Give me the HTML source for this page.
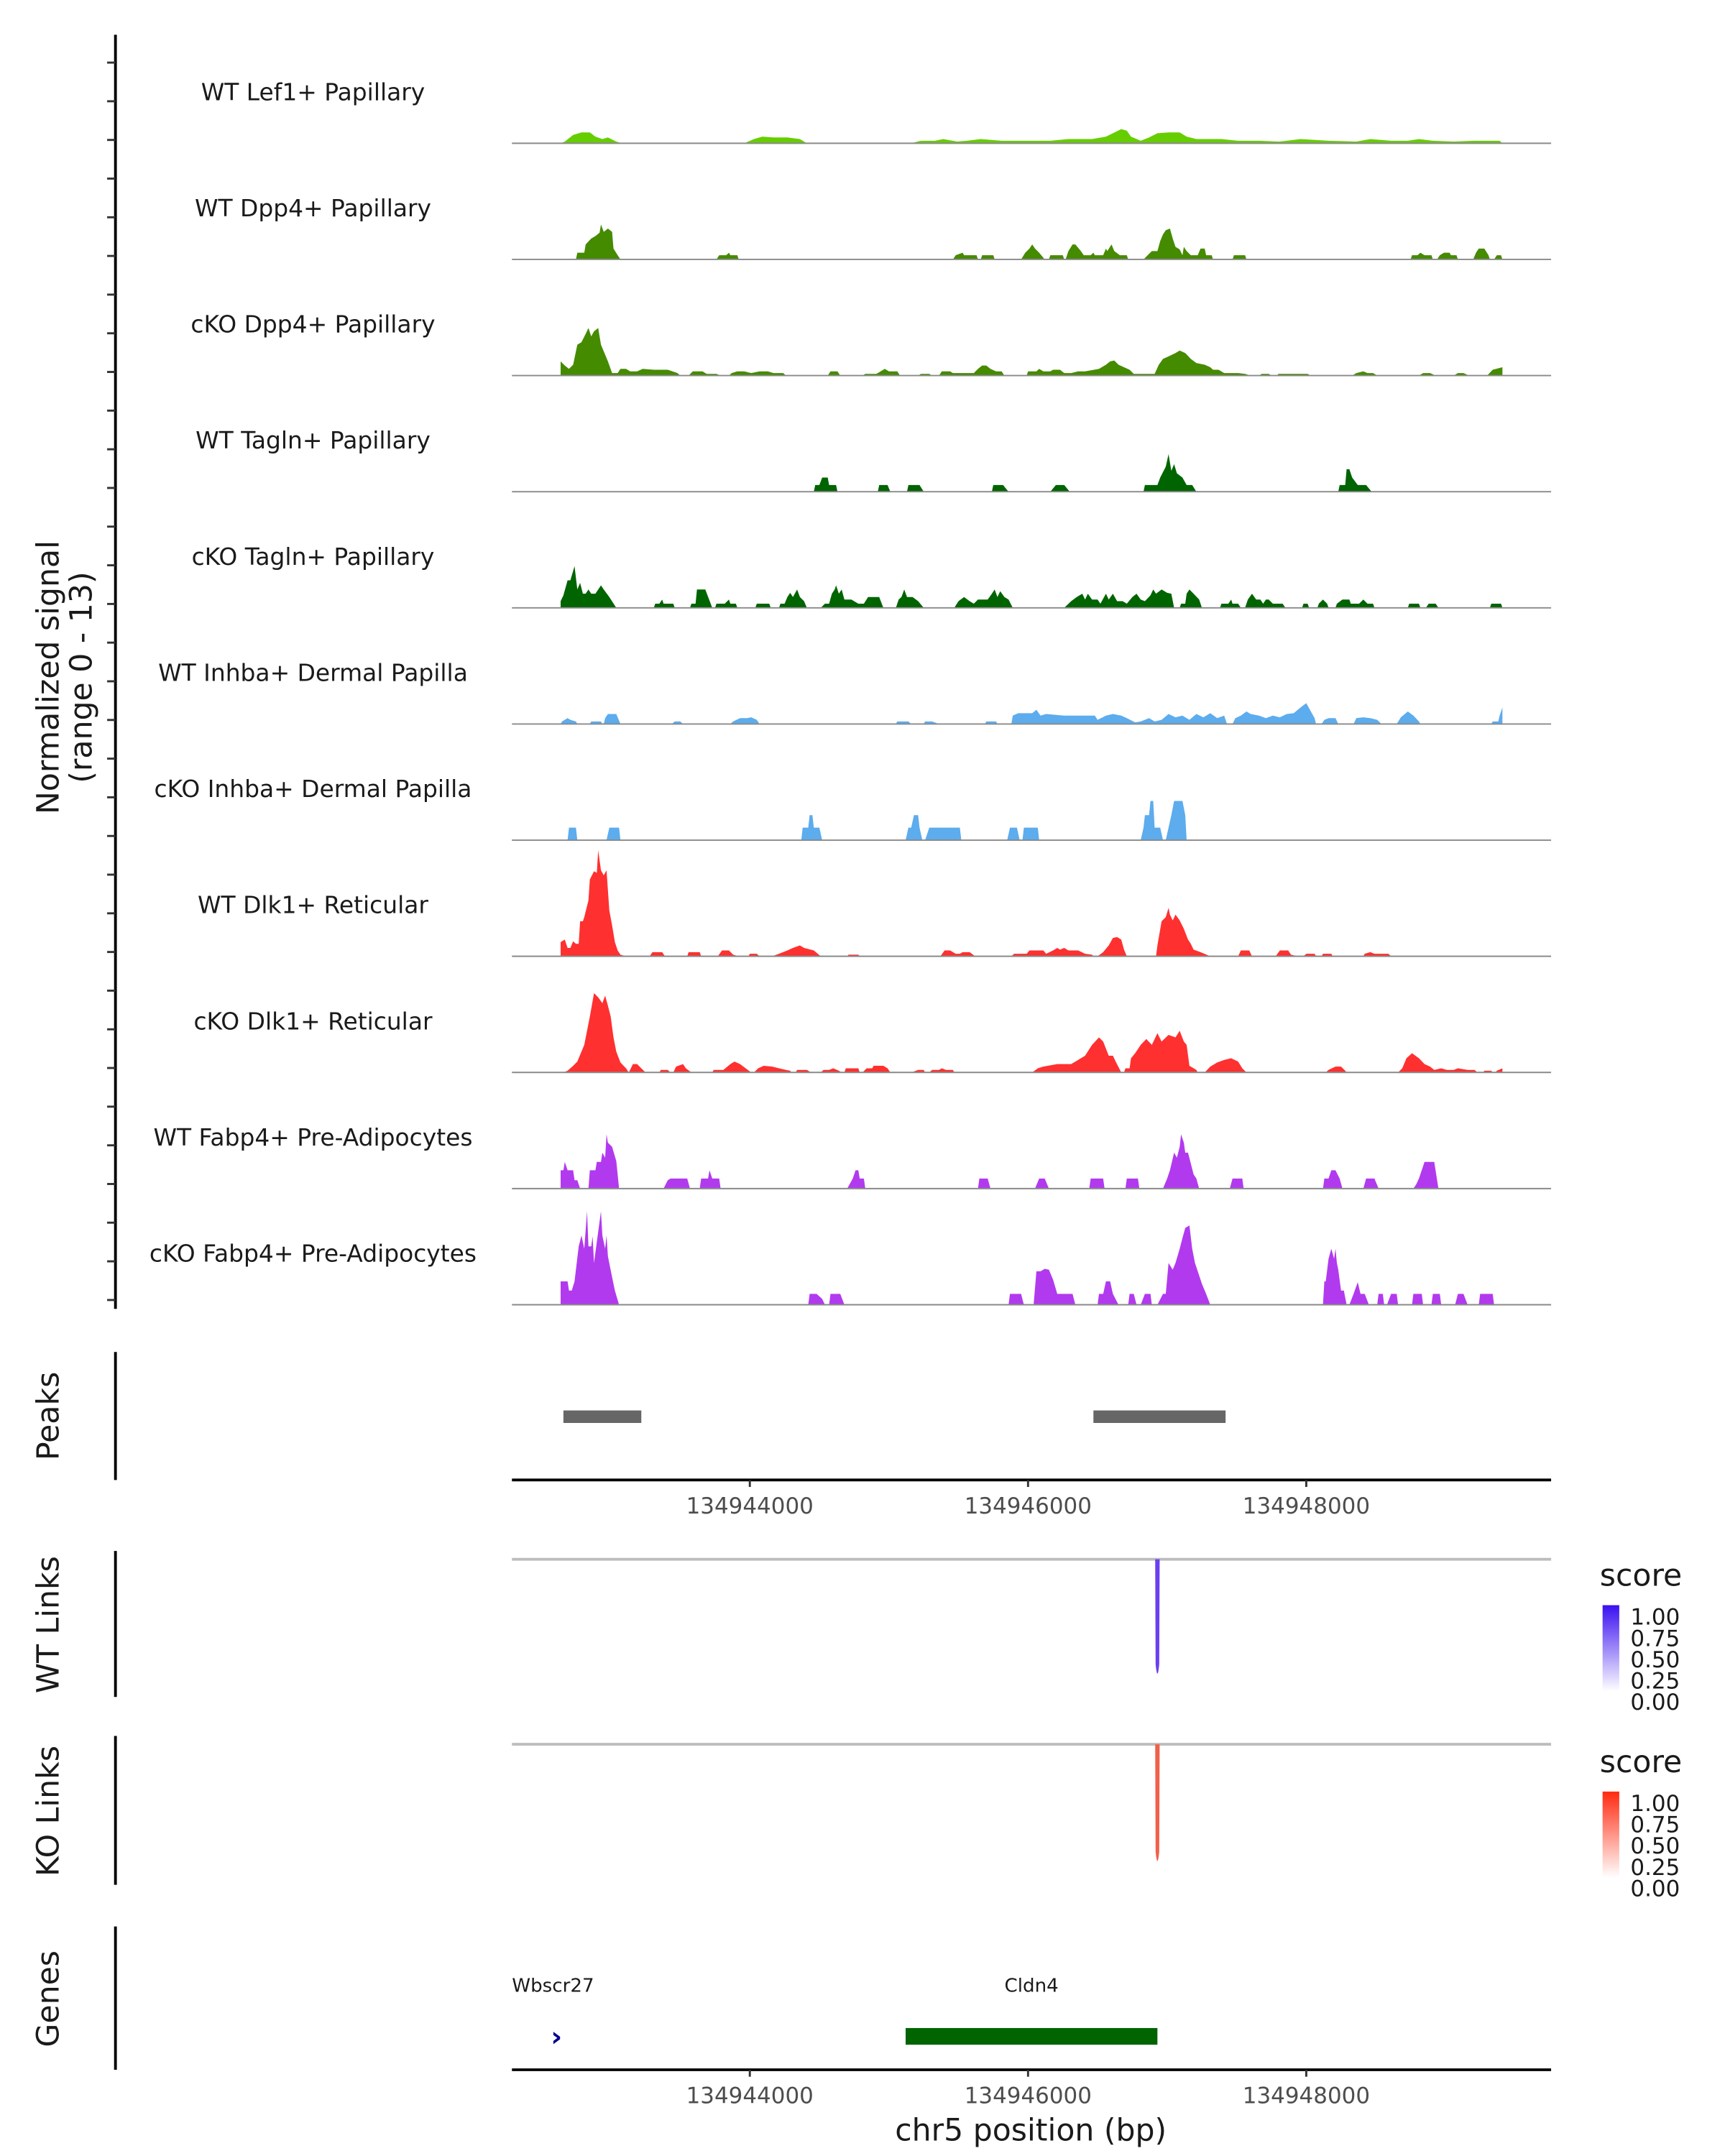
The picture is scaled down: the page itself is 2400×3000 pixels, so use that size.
<!DOCTYPE html>
<html><head><meta charset="utf-8"><style>
html,body{margin:0;padding:0;background:#fff}
svg{display:block;font-family:"DejaVu Sans","Liberation Sans",sans-serif}
</style></head><body>
<svg id="chart" xmlns="http://www.w3.org/2000/svg" width="2400" height="3000" viewBox="0 0 1240 1550">
<defs>
<linearGradient id="gWT" x1="0" y1="1" x2="0" y2="0"><stop offset="0" stop-color="#ffffff"/><stop offset="1" stop-color="#3a10f0"/></linearGradient>
<linearGradient id="gKO" x1="0" y1="1" x2="0" y2="0"><stop offset="0" stop-color="#ffffff"/><stop offset="1" stop-color="#ff2a10"/></linearGradient>
</defs>
<g id="tracks"></g>
<g id="frame"></g>
</svg>
<script>
const REGION_ORIGIN = 134940000;
const trackNames = ["WT Lef1+ Papillary","WT Dpp4+ Papillary","cKO Dpp4+ Papillary","WT Tagln+ Papillary","cKO Tagln+ Papillary","WT Inhba+ Dermal Papilla","cKO Inhba+ Dermal Papilla","WT Dlk1+ Reticular","cKO Dlk1+ Reticular","WT Fabp4+ Pre-Adipocytes","cKO Fabp4+ Pre-Adipocytes"];
const trackColors = ["#66CD00","#458B00","#458B00","#006400","#006400","#5CACEE","#5CACEE","#FF3030","#FF3030","#B23AEE","#B23AEE"];
const lef1WT = [2.64,0,2.67,.2,2.73,1,2.79,1.3,2.85,1.3,2.89,.8,2.94,.5,2.98,.7,3.04,.2,3.08,0,3.96,0,4.03,.5,4.09,.8,4.17,.7,4.27,.7,4.36,.5,4.41,0,5.16,0,5.23,.3,5.33,.3,5.39,.5,5.49,.2,5.56,.3,5.66,.5,5.81,.3,6.16,.3,6.29,.5,6.46,.5,6.56,.8,6.61,1.2,6.67,1.7,6.71,1.5,6.74,.8,6.81,.3,6.87,.7,6.93,1.2,7.01,1.3,7.09,1.3,7.14,.8,7.21,.5,7.39,.5,7.51,.3,7.66,.3,7.81,.2,7.96,.5,8.16,.3,8.36,.2,8.46,.5,8.61,.3,8.73,.3,8.81,.5,8.91,.3,9.06,.2,9.21,.3,9.39,.3,9.41,0];
const dpp4WT = [2.75,0,2.76,.8,2.81,.8,2.82,1.8,2.86,2.5,2.89,2.8,2.92,3.2,2.93,4.2,2.95,3.3,2.98,3.7,3.01,3.3,3.02,1.3,3.05,.5,3.07,0,3.76,0,3.78,.5,3.83,.5,3.85,.8,3.86,.5,3.91,.5,3.92,0,5.46,0,5.48,.5,5.53,.8,5.54,.5,5.63,.5,5.64,0,5.66,0,5.67,.5,5.75,.5,5.76,0,5.95,0,5.98,.8,6.01,1.3,6.03,1.8,6.05,1.3,6.08,.8,6.12,0,6.15,0,6.16,.5,6.25,.5,6.26,0,6.27,0,6.29,1,6.32,1.8,6.34,1.8,6.38,1,6.4,.5,6.45,.5,6.47,.8,6.48,.5,6.54,.5,6.56,1.3,6.57,1,6.6,1.8,6.62,1,6.66,.5,6.71,.5,6.72,0,6.83,0,6.86,.5,6.89,1,6.93,1,6.95,2.2,6.97,3,6.99,3.5,7.02,3.7,7.04,2.5,7.06,1.5,7.09,1.2,7.11,.5,7.12,1.5,7.14,1,7.17,.5,7.22,.5,7.24,1.3,7.27,1.3,7.28,.5,7.32,.5,7.33,0,7.47,0,7.48,.5,7.56,.5,7.57,0,8.75,0,8.76,.5,8.8,.5,8.82,.8,8.85,.5,8.9,.5,8.91,0,8.94,0,8.96,.5,8.99,.8,9.03,.8,9.04,.5,9.08,.5,9.09,0,9.2,0,9.22,.8,9.24,1.3,9.28,1.3,9.31,.5,9.32,0,9.35,0,9.37,.5,9.4,.5,9.41,0];
const dpp4KO = [2.64,0,2.64,1.7,2.67,1.2,2.7,.8,2.73,1.3,2.76,3.7,2.79,4,2.82,5,2.84,5.7,2.86,4.7,2.88,5.3,2.91,5.7,2.93,3.7,2.96,2.5,2.98,1.7,3.01,.3,3.05,.3,3.07,.8,3.11,.8,3.14,.5,3.19,.5,3.23,.8,3.31,.7,3.41,.7,3.48,.3,3.5,0,3.56,0,3.59,.5,3.66,.5,3.69,.2,3.76,.2,3.79,0,3.85,0,3.87,.3,3.91,.5,3.96,.5,4.01,.3,4.07,.5,4.13,.5,4.17,.3,4.24,.3,4.26,0,4.56,0,4.58,.5,4.63,.5,4.65,0,4.81,0,4.83,.2,4.91,.2,4.94,.5,4.97,.8,5,.5,5.06,.5,5.08,0,5.21,0,5.23,.2,5.29,.2,5.31,0,5.36,0,5.38,.5,5.44,.5,5.46,.3,5.61,.3,5.64,.8,5.67,1.2,5.7,1.2,5.73,.8,5.77,.5,5.81,.5,5.83,0,5.99,0,6,.5,6.06,.5,6.08,.8,6.11,.5,6.16,.5,6.18,.7,6.23,.7,6.26,.3,6.31,.3,6.36,.5,6.41,.5,6.51,.8,6.56,1.3,6.59,1.7,6.62,1.8,6.65,1.3,6.69,1,6.73,.7,6.76,.2,6.91,.2,6.94,1.3,6.97,2,7.01,2.3,7.06,2.7,7.09,3,7.13,2.7,7.17,2,7.21,1.5,7.27,1.3,7.31,1,7.33,.7,7.37,.7,7.41,.3,7.51,.3,7.56,.2,7.6,0,7.66,0,7.68,.2,7.73,.2,7.75,0,7.79,0,7.8,.2,8.01,.2,8.03,0,8.33,0,8.36,.3,8.41,.5,8.44,.3,8.48,.3,8.51,0,8.81,0,8.84,.3,8.89,.3,8.93,0,9.06,0,9.09,.3,9.13,.3,9.17,0,9.3,0,9.34,.7,9.41,1,9.41,0];
const taglnWT = [4.46,0,4.47,.8,4.5,.8,4.52,1.7,4.56,1.7,4.57,.8,4.62,.8,4.63,0,4.92,0,4.93,.8,4.99,.8,5.01,0,5.13,0,5.14,.8,5.22,.8,5.25,0,5.74,0,5.75,.8,5.82,.8,5.86,0,6.16,0,6.2,.8,6.26,.8,6.3,0,6.83,0,6.84,.8,6.93,.8,6.95,1.7,6.99,3,7.01,4.5,7.03,2.5,7.05,3.3,7.07,2.2,7.11,1.7,7.14,.8,7.18,.8,7.21,0,8.23,0,8.24,.8,8.28,.8,8.29,2.7,8.31,2.7,8.33,1.7,8.37,.8,8.43,.8,8.47,0];
const taglnKO = [2.64,0,2.64,.8,2.66,1.5,2.69,3.3,2.71,3.3,2.74,5,2.76,2.2,2.78,3,2.8,1.7,2.82,1.7,2.84,2.2,2.86,1.7,2.89,1.7,2.93,2.7,2.95,2.2,2.99,1.3,3.04,0,3.31,0,3.32,.5,3.35,.5,3.37,1,3.38,.5,3.45,.5,3.46,0,3.57,0,3.58,.5,3.61,.5,3.62,2.2,3.68,2.2,3.73,0,3.75,0,3.76,.5,3.82,.5,3.85,1,3.86,.5,3.9,.5,3.91,0,4.04,0,4.05,.5,4.14,.5,4.15,0,4.21,0,4.22,.5,4.25,.5,4.27,1.3,4.29,1.8,4.31,1.3,4.34,2.2,4.36,1.3,4.39,.8,4.41,0,4.51,0,4.54,.5,4.57,.5,4.59,1.7,4.61,2.2,4.62,2.7,4.64,1.7,4.66,2.2,4.68,1,4.73,1,4.78,.5,4.82,.5,4.85,1.3,4.93,1.3,4.96,0,5.05,0,5.07,1,5.09,1.3,5.11,2.2,5.13,1.3,5.17,1.3,5.21,.8,5.25,0,5.47,0,5.5,.8,5.54,1.3,5.58,.8,5.61,.5,5.64,1,5.71,1,5.74,1.7,5.76,2.2,5.78,1.3,5.8,2,5.83,1.3,5.86,1,5.89,0,6.26,0,6.31,.8,6.35,1.3,6.39,1.7,6.41,1,6.43,1.7,6.46,1,6.5,1,6.52,.5,6.56,1.7,6.58,1,6.61,1.7,6.64,.8,6.68,.8,6.71,.5,6.75,1.3,6.78,1.7,6.81,1,6.84,.8,6.88,1.5,6.9,2.2,6.92,1.7,6.96,2.2,7,1.8,7.03,1.7,7.05,0,7.09,0,7.1,.5,7.13,.5,7.14,1.7,7.16,2.2,7.19,1.7,7.23,1,7.25,0,7.38,0,7.39,.5,7.44,.5,7.46,1,7.47,.5,7.51,.5,7.53,0,7.56,0,7.58,1,7.61,1.7,7.64,1,7.67,1,7.69,.5,7.71,1,7.73,1,7.76,.5,7.83,.5,7.85,0,7.97,0,7.98,.5,8.01,.5,8.02,0,8.08,0,8.09,.5,8.12,1,8.15,.5,8.16,0,8.21,0,8.22,.5,8.26,1,8.31,1,8.32,.5,8.38,.5,8.41,1,8.44,.5,8.48,.5,8.49,0,8.73,0,8.74,.5,8.81,.5,8.82,0,8.86,0,8.88,.5,8.93,.5,8.95,0,9.32,0,9.33,.5,9.4,.5,9.41,0];
const inhbaWT = [2.64,0,2.65,.3,2.69,.7,2.71,.5,2.75,.3,2.76,0,2.85,0,2.86,.3,2.93,.3,2.94,0,2.95,0,2.96,.7,2.98,1.2,3.04,1.2,3.07,0,3.44,0,3.46,.3,3.5,.3,3.52,0,3.86,0,3.88,.3,3.93,.7,3.98,.7,4.01,.8,4.05,.5,4.07,0,5.05,0,5.06,.3,5.14,.3,5.16,0,5.25,0,5.26,.3,5.31,.3,5.36,0,5.69,0,5.7,.3,5.77,.3,5.78,0,5.88,0,5.89,1,5.93,1.3,6.03,1.3,6.06,1.7,6.09,1,6.13,1.2,6.26,1,6.48,1,6.5,.5,6.56,1,6.61,1.2,6.67,1,6.71,.7,6.77,.2,6.81,.3,6.87,.7,6.91,.3,6.96,.5,7.01,1.2,7.06,.8,7.11,1,7.16,.5,7.21,1.2,7.26,.8,7.31,1.3,7.36,.7,7.41,1,7.43,0,7.47,0,7.49,.7,7.53,1,7.57,1.5,7.6,1.2,7.66,1,7.71,.7,7.76,1,7.81,.8,7.86,1.2,7.91,1.3,7.96,2,8,2.5,8.04,1.3,8.06,.7,8.07,0,8.11,0,8.13,.5,8.16,.7,8.21,.7,8.23,0,8.34,0,8.36,.7,8.41,.8,8.46,.7,8.51,.5,8.54,0,8.65,0,8.68,.8,8.73,1.5,8.77,1,8.81,.3,8.82,0,9.33,0,9.34,.3,9.38,.3,9.39,1,9.41,2,9.41,0];
const inhbaKO = [2.69,0,2.7,1.5,2.75,1.5,2.76,0,2.97,0,2.99,1.5,3.06,1.5,3.07,0,4.37,0,4.38,1.5,4.42,1.5,4.43,3,4.45,3,4.46,1.5,4.5,1.5,4.52,0,5.12,0,5.14,1.5,5.16,1.5,5.18,3,5.21,3,5.22,1.5,5.24,0,5.26,0,5.29,1.5,5.51,1.5,5.52,0,5.85,0,5.87,1.5,5.92,1.5,5.94,0,5.96,0,5.97,1.5,6.07,1.5,6.08,0,6.81,0,6.83,1.5,6.84,3,6.87,3,6.88,4.7,6.9,4.7,6.91,1.5,6.95,1.5,6.97,0,6.99,0,7.01,1.5,7.03,3,7.05,4.7,7.11,4.7,7.13,3,7.14,0];
const dlk1WT = [2.64,0,2.64,1.7,2.67,2,2.69,1,2.71,1,2.73,1.8,2.75,1.5,2.77,1.5,2.78,4.2,2.8,4.2,2.81,4.7,2.84,6.7,2.85,9.2,2.88,10.2,2.9,10,2.91,12.7,2.93,10.3,2.95,9.7,2.97,10.3,2.99,5.5,3.01,3.7,3.03,1.7,3.05,.7,3.07,.2,3.11,0,3.28,0,3.3,.5,3.37,.5,3.39,0,3.55,0,3.56,.5,3.64,.5,3.65,0,3.77,0,3.8,.7,3.85,.7,3.88,.2,3.92,0,3.99,0,4,.3,4.05,.3,4.07,0,4.16,0,4.21,.3,4.27,.7,4.31,1,4.36,1.3,4.39,1,4.46,.7,4.51,0,4.7,0,4.71,.2,4.78,.2,4.79,0,5.37,0,5.4,.7,5.44,.7,5.48,.3,5.51,.3,5.53,.5,5.58,.5,5.62,0,5.88,0,5.9,.3,5.99,.3,6.01,.7,6.11,.7,6.13,.3,6.18,.7,6.21,1,6.23,.8,6.26,1,6.29,.7,6.36,.7,6.41,.3,6.46,.2,6.47,0,6.5,0,6.54,.5,6.58,1.3,6.61,2.2,6.64,2.3,6.67,2,6.69,.8,6.71,0,6.92,0,6.93,1.3,6.96,4.2,6.99,4.7,7.01,5.8,7.02,5,7.04,4.3,7.06,5,7.09,4.3,7.12,3.3,7.15,2,7.17,1.5,7.19,.8,7.24,.5,7.31,0,7.51,0,7.53,.7,7.59,.7,7.61,0,7.78,0,7.81,.7,7.87,.7,7.89,.2,7.94,0,7.98,0,8,.3,8.06,.3,8.07,0,8.11,0,8.12,.3,8.18,.3,8.19,0,8.41,0,8.42,.3,8.46,.5,8.49,.3,8.59,.3,8.61,0];
const dlk1KO = [2.66,0,2.69,.2,2.73,.8,2.76,1.3,2.81,3.3,2.85,6.7,2.88,9.5,2.91,9,2.94,8.3,2.96,9.2,2.98,8,3,6.7,3.02,4.2,3.04,2.5,3.07,1.2,3.11,.5,3.13,0,3.16,1,3.19,1,3.22,.5,3.25,0,3.35,0,3.36,.3,3.41,.3,3.43,0,3.45,0,3.47,.7,3.52,1,3.54,.5,3.58,0,3.73,0,3.74,.3,3.81,.3,3.86,1,3.89,1.3,3.93,1,3.97,.5,4.01,0,4.03,0,4.06,.5,4.1,.8,4.16,.7,4.21,.5,4.26,.3,4.29,.2,4.3,0,4.33,0,4.34,.3,4.41,.3,4.44,0,4.51,0,4.53,.3,4.57,.3,4.6,.5,4.64,.2,4.66,0,4.68,0,4.69,.5,4.78,.5,4.79,0,4.81,0,4.84,.5,4.88,.5,4.89,.8,4.96,.8,4.99,.5,5.01,0,5.16,0,5.21,.3,5.25,.3,5.26,0,5.29,0,5.31,.3,5.36,.3,5.38,.5,5.41,.3,5.46,.3,5.47,0,6.03,0,6.07,.5,6.11,.7,6.21,1,6.31,1,6.36,1.5,6.41,2,6.46,3.3,6.51,4.2,6.54,3.7,6.58,2,6.61,2,6.63,1.3,6.67,0,6.69,0,6.7,.5,6.73,.5,6.74,1.7,6.77,2.3,6.81,3.3,6.85,4,6.89,3.3,6.93,4.7,6.96,3.7,7.01,4.5,7.06,4.2,7.09,5,7.12,3.7,7.14,3.3,7.16,.8,7.21,.3,7.22,0,7.27,0,7.31,.7,7.36,1.2,7.41,1.5,7.46,1.7,7.51,1.3,7.54,.5,7.57,0,8.14,0,8.16,.3,8.21,.7,8.25,.7,8.28,.2,8.29,0,8.66,0,8.69,.5,8.72,1.7,8.76,2.3,8.81,1.7,8.85,1,8.89,.7,8.92,.3,8.97,.5,9.01,.3,9.06,.3,9.09,.5,9.16,.3,9.21,.3,9.23,0,9.27,0,9.28,.2,9.33,.2,9.34,0,9.36,0,9.37,.2,9.41,.5,9.41,0];
const fabp4WT = [2.64,0,2.64,2.2,2.66,2.2,2.67,3.2,2.69,2.2,2.73,2.2,2.74,1,2.76,1,2.78,0,2.84,0,2.85,2.2,2.89,2.2,2.9,3.2,2.93,3.2,2.94,4.3,2.96,3.7,2.97,6.5,2.98,5.5,3.01,5,3.04,3.3,3.05,1.7,3.06,0,3.38,0,3.41,1,3.43,1.2,3.55,1.2,3.57,0,3.64,0,3.65,1.2,3.7,1.2,3.71,2.2,3.73,1.2,3.78,1.2,3.79,0,4.7,0,4.74,1.2,4.76,2.2,4.78,2.2,4.79,1.2,4.82,1.2,4.83,0,5.64,0,5.65,1.2,5.71,1.2,5.73,0,6.05,0,6.08,1.2,6.12,1.2,6.15,0,6.44,0,6.45,1.2,6.54,1.2,6.55,0,6.7,0,6.71,1.2,6.79,1.2,6.8,0,6.97,0,7,1.2,7.02,2.2,7.05,4.3,7.07,3.7,7.09,5,7.1,6.5,7.12,5.5,7.13,4.3,7.15,4.3,7.19,1.7,7.21,1.2,7.23,0,7.45,0,7.47,1.2,7.54,1.2,7.55,0,8.12,0,8.13,1.2,8.16,1.2,8.18,2.2,8.21,2.2,8.24,1.2,8.26,0,8.41,0,8.43,1.2,8.49,1.2,8.52,0,8.77,0,8.79,.5,8.81,1.2,8.85,3.2,8.92,3.2,8.95,0];
const fabp4KO = [2.64,0,2.64,2.8,2.69,2.8,2.7,1.7,2.72,1.7,2.74,2.8,2.77,7,2.79,8.3,2.81,6.7,2.83,11.2,2.84,7,2.86,7,2.87,8.2,2.88,5,2.9,7.5,2.93,11.2,2.94,8.3,2.96,6.7,2.97,8.3,2.98,5.8,3.01,3.3,3.03,1.7,3.06,0,4.42,0,4.43,1.3,4.48,1.3,4.52,.7,4.54,0,4.57,0,4.58,1.3,4.65,1.3,4.68,0,5.86,0,5.87,1.3,5.95,1.3,5.97,0,6.04,0,6.06,4,6.09,4,6.12,4.3,6.15,4.2,6.18,3,6.21,1.3,6.32,1.3,6.34,0,6.5,0,6.51,1.3,6.54,1.3,6.56,2.8,6.59,2.8,6.61,1.3,6.65,0,6.72,0,6.73,1.3,6.76,1.3,6.78,0,6.81,0,6.84,1.3,6.88,1.3,6.89,0,6.93,0,6.97,1.3,6.99,1.3,7.01,5,7.04,4.2,7.06,5,7.09,6.7,7.11,8,7.13,9.2,7.16,9.5,7.18,6.7,7.2,5,7.25,2.5,7.28,1.3,7.31,0,8.12,0,8.13,2.8,8.14,2.8,8.16,5.5,8.18,6.7,8.2,5.5,8.21,6.7,8.22,5,8.23,4.2,8.25,1.7,8.27,1.7,8.29,0,8.31,0,8.34,1.3,8.37,2.7,8.39,1.3,8.42,1.3,8.45,0,8.51,0,8.52,1.3,8.55,1.3,8.56,0,8.58,0,8.61,1.3,8.65,1.3,8.66,0,8.76,0,8.77,1.3,8.83,1.3,8.84,0,8.9,0,8.91,1.3,8.96,1.3,8.97,0,9.07,0,9.09,1.3,9.13,1.3,9.16,0,9.24,0,9.25,1.3,9.34,1.3,9.35,0];
const trackData = [lef1WT,dpp4WT,dpp4KO,taglnWT,taglnKO,inhbaWT,inhbaKO,dlk1WT,dlk1KO,fabp4WT,fabp4KO];
const peakStarts = [2.66, 6.47];
const peakEnds = [3.22, 7.42];
const xTickBp = [134944000, 134946000, 134948000];
const wtLinkPos = [6.93]; const wtLinkScore = [0.7];
const koLinkPos = [6.93]; const koLinkScore = [0.7];
const legendTicks = ["1.00","0.75","0.50","0.25","0.00"];
const geneNames = ["Wbscr27","Cldn4"];
const geneStarts = [2.61, 5.12];
const geneEnds = [2.63, 6.93];

const NS="http://www.w3.org/2000/svg";
const X0=368, X1=1115, TH=83.5, YMAX=13, HPX=78;
function xKb(kb){return 139 + kb*100;}
function xBp(bp){return xKb((bp-REGION_ORIGIN)/1000);}
function base(i){return 103 + i*TH;}
function yVal(i,v){return base(i) - v/YMAX*HPX;}
function mk(tag,attrs,parent){const e=document.createElementNS(NS,tag);for(const k in attrs)e.setAttribute(k,attrs[k]);parent.appendChild(e);return e;}
const tg=document.getElementById('tracks'), fr=document.getElementById('frame');

trackData.forEach((arr,i)=>{
  const b=base(i);
  let d='M'+xKb(arr[0]).toFixed(2)+','+b;
  for(let k=0;k<arr.length;k+=2){d+=' L'+xKb(arr[k]).toFixed(2)+','+yVal(i,arr[k+1]).toFixed(2);}
  d+=' L'+xKb(arr[arr.length-2]).toFixed(2)+','+b+' Z';
  const p=mk('path',{d:d,fill:trackColors[i],stroke:'none'},tg);
  
  
  const l=mk('line',{x1:X0,x2:X1,y1:b,y2:b,stroke:'#8a8a8a','stroke-width':1},tg);
  
  
  const t=mk('text',{x:225,y:b-31,'text-anchor':'middle','font-size':17,fill:'#1a1a1a'},tg);
  t.textContent=trackNames[i];
  
  
});
let a=mk('line',{x1:83,x2:83,y1:25,y2:941,stroke:'#000','stroke-width':2},fr);


for(let k=0;k<33;k++){const y=45+k*27.8;const tk=mk('line',{x1:77,x2:83,y1:y,y2:y,stroke:'#333','stroke-width':1.5},fr);

}
function rot(txt,x,y,size,name){const t=mk('text',{x:x,y:y,'text-anchor':'middle','font-size':size,fill:'#1a1a1a',transform:'rotate(-90 '+x+' '+y+')'},fr);t.textContent=txt;

return t;}
rot('Normalized signal',42,487,22,'y-axis-title');
rot('(range 0 - 13)',66,487,22,'y-axis-range');
a=mk('line',{x1:83,x2:83,y1:972,y2:1064,stroke:'#000','stroke-width':2},fr);


rot('Peaks',42,1018,22,'peaks-title');
peakStarts.forEach((s,i)=>{const r=mk('rect',{x:xKb(s),y:1014,width:xKb(peakEnds[i])-xKb(s),height:9,fill:'#666'},fr);

});
function xAxis(y,name){
  const l=mk('line',{x1:X0,x2:X1,y1:y,y2:y,stroke:'#000','stroke-width':2},fr);
  
  
  xTickBp.forEach(bp=>{const x=xBp(bp);
    const tk=mk('line',{x1:x,x2:x,y1:y,y2:y+5,stroke:'#333','stroke-width':1.5},fr);
    
    
    const t=mk('text',{x:x,y:y+24,'text-anchor':'middle','font-size':16,fill:'#4d4d4d'},fr);t.textContent=String(bp);
    
    });
}
xAxis(1064,'peaks-x-axis');
function links(y0,y1,pos,score,col,grad,title,name,legY){
  const a=mk('line',{x1:83,x2:83,y1:y0-6,y2:y1+5,stroke:'#000','stroke-width':2},fr);
  
  
  rot(title,42,(y0+y1)/2,22,name+'-title');
  const g=mk('line',{x1:X0,x2:X1,y1:y0,y2:y0,stroke:'#bdbdbd','stroke-width':2},fr);
  
  
  pos.forEach((p,i)=>{const x=xKb(p);const h=(y1-y0)*(0.7+score[i]*0.35);
    const arc=mk('path',{d:'M'+(x-1.6)+','+y0+' L'+(x-1.3)+','+(y0+h*0.85)+' Q'+x+','+(y0+h)+' '+(x+1.3)+','+(y0+h*0.85)+' L'+(x+1.6)+','+y0+' Z',fill:col,stroke:'none'},fr);
    
    });
  const lt=mk('text',{x:1150,y:legY,'font-size':22,fill:'#1a1a1a'},fr);lt.textContent='score';
  
  
  const r=mk('rect',{x:1152,y:legY+14,width:12,height:62,fill:'url(#'+grad+')'},fr);
  
  
  legendTicks.forEach((s,k)=>{const t=mk('text',{x:1172,y:legY+28+k*15.3,'font-size':16,fill:'#1a1a1a'},fr);t.textContent=s;
    
    });
}
links(1121,1215,wtLinkPos,wtLinkScore,'#6a3ff0','gWT','WT Links','wt-links',1140);
links(1254,1350,koLinkPos,koLinkScore,'#f0604a','gKO','KO Links','ko-links',1274);
a=mk('line',{x1:83,x2:83,y1:1385,y2:1488,stroke:'#000','stroke-width':2},fr);


rot('Genes',42,1437,22,'genes-title');
let t=mk('text',{x:368,y:1432,'font-size':13.5,fill:'#1a1a1a'},fr);t.textContent=geneNames[0];


t=mk('text',{x:400,y:1471,'font-size':20,'font-weight':'bold',fill:'#00008b','text-anchor':'middle'},fr);t.textContent='›';


t=mk('text',{x:(xKb(geneStarts[1])+xKb(geneEnds[1]))/2,y:1432,'font-size':13.5,fill:'#1a1a1a','text-anchor':'middle'},fr);t.textContent=geneNames[1];


let gr=mk('rect',{x:xKb(geneStarts[1]),y:1458,width:xKb(geneEnds[1])-xKb(geneStarts[1]),height:12,fill:'#006400'},fr);


xAxis(1488,'genes-x-axis');
t=mk('text',{x:741,y:1539,'font-size':22,fill:'#1a1a1a','text-anchor':'middle'},fr);t.textContent='chr5 position (bp)';


</script>
</body></html>
